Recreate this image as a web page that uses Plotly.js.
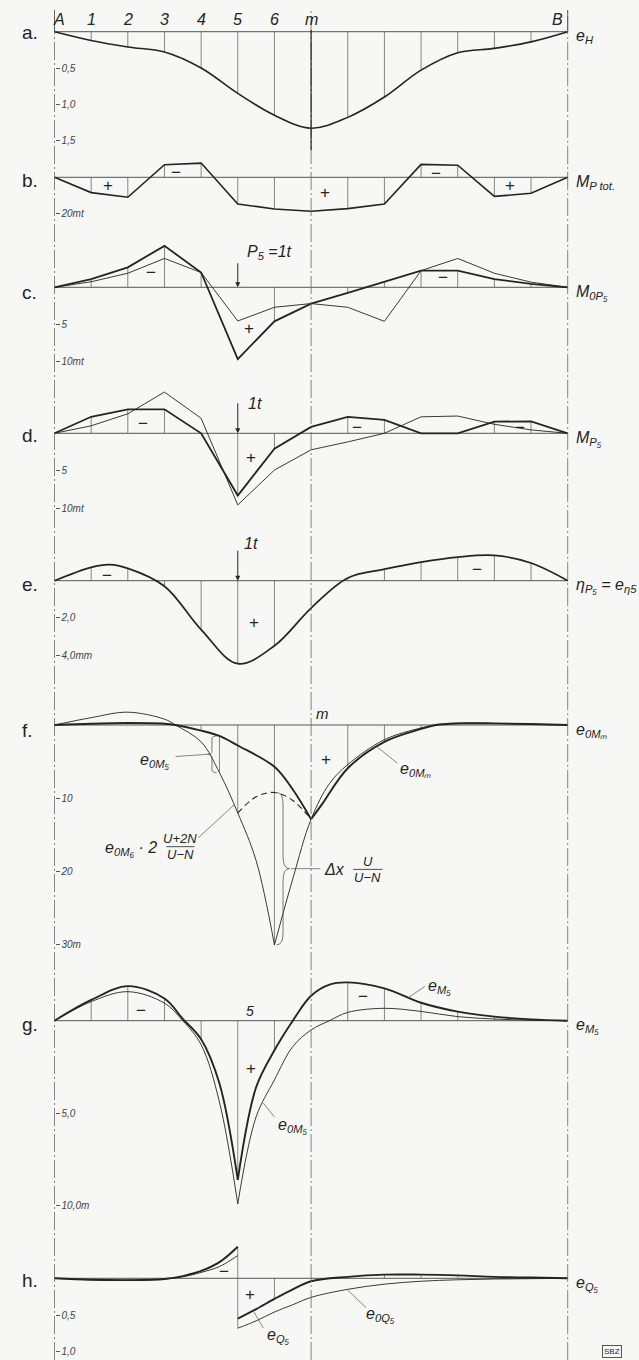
<!DOCTYPE html>
<html>
<head>
<meta charset="utf-8">
<script src="https://cdn.plot.ly/plotly-3.0.1.min.js"></script>
<style>
  body { margin: 0; background: #f7f7f5; }
  #chart { width: 639px; height: 1360px; }
</style>
</head>
<body>
<div id="chart"></div>
<script>
var W = 639, H = 1360;
var FONT = "Liberation Sans, Arial, sans-serif";
var INK = "#242424";
var XA = 54.5, XS = 36.657;   // pixel of station A, pixels per station

// stations along the girder: A = 0, m = 7, B = 14
var stations = [0, 1, 2, 3, 4, 5, 6, 7, 8, 9, 10, 11, 12, 13, 14];
var stationNames = ["A", "1", "2", "3", "4", "5", "6", "m", "", "", "", "", "", "", "B"];

// a. e_H
var eH = [0, 0.12, 0.21, 0.28, 0.50, 0.85, 1.15, 1.33, 1.18, 0.90, 0.53, 0.29, 0.23, 0.14, 0];
var aTicks = [0.5, 1.0, 1.5], aTickText = ["0,5", "1,0", "1,5"];

// b. M_P tot (mt)
var mPtot = [0, 8.5, 11.1, -7.0, -7.9, 14.8, 17.6, 18.9, 17.4, 14.8, -7.2, -6.7, 10.6, 8.9, 0];
var bTicks = [20], bTickText = ["20mt"];

// c. M_0P5
var m0P5Thick = [0, -1.1, -2.7, -5.6, -2.0, 9.7, 4.6, 2.2, 0.75, -0.75, -2.25, -2.25, -1.1, -0.45, 0];
var m0P5Thin  = [0, -0.75, -1.9, -3.9, -2.0, 4.55, 2.7, 2.2, 2.7, 4.6, -2.25, -3.9, -1.9, -0.7, 0];
var cTicks = [5, 10], cTickText = ["5", "10mt"];

// d. M_P5
var mP5Thick = [0, -2.2, -3.2, -3.2, 0, 8.3, 2.05, -0.85, -2.2, -1.8, 0, 0, -1.55, -1.6, 0];
var mP5Thin  = [0, -1.0, -2.6, -5.5, -2.0, 9.55, 4.9, 2.2, 1.15, 0, -2.2, -2.3, -1.2, -0.45, 0];
var dTicks = [5, 10], dTickText = ["5", "10mt"];

// e. eta_P5
var eEtaX = [0, 1, 1.5, 2, 3, 4, 5, 6, 7, 8, 9, 10, 11, 12, 13, 14];
var eEta  = [0, -0.72, -0.86, -0.66, 0.3, 2.63, 4.46, 3.5, 1.47, -0.15, -0.62, -1.0, -1.27, -1.36, -0.95, 0];
var eTicks = [2, 4], eTickText = ["2,0", "4,0mm"];

// f. e_0Mm and construction curves
var fThickLX = [0, 1, 2, 3, 3.3, 4, 4.5, 5, 6, 6.5, 7];
var fThickL  = [0, -0.18, -0.27, -0.18, 0, 0.76, 1.5, 2.8, 5.7, 8.8, 12.85];
var fThickRX = [7, 7.3, 8, 9, 10, 10.4, 11, 12, 13, 14];
var fThickR  = [12.85, 10.8, 5.9, 2.3, 0.54, 0, -0.22, -0.22, -0.13, 0];
var fThinLX  = [0, 1, 2, 3, 3.3, 4, 4.5, 5, 5.5, 6];
var fThinL   = [0, -1.0, -1.75, -0.8, 0, 2.3, 6.5, 12.0, 18.5, 30];
var fThinRX  = [6, 6.5, 7, 7.5, 8, 9, 10, 10.4, 11, 12, 13, 14];
var fThinR   = [30, 21, 12.85, 8.0, 5.4, 2.0, 0.4, 0, -0.25, -0.2, -0.1, 0];
var fDashX   = [5, 5.5, 6, 6.5, 7];
var fDash    = [12.0, 9.8, 9.2, 10.3, 12.85];
var fTicks = [10, 20, 30], fTickText = ["10", "20", "30m"];

// g. e_M5 (thick) and e_0M5 (thin)
var gLX   = [0, 1, 2, 3, 3.5, 4, 4.5, 5];
var eM5L  = [0, -1.12, -1.87, -1.2, -0.1, 1.0, 3.4, 8.6];
var e0M5L = [0, -1.03, -1.57, -0.95, 0.0, 1.3, 4.4, 9.9];
var gRX   = [5, 5.5, 6, 6.5, 7, 7.5, 8, 9, 10, 11, 12, 13, 14];
var eM5R  = [8.6, 3.6, 1.6, 0.0, -1.35, -1.95, -2.07, -1.75, -0.97, -0.49, -0.22, -0.07, 0];
var e0M5R = [9.9, 5.2, 3.2, 1.4, 0.5, 0.0, -0.45, -0.67, -0.5, -0.22, -0.09, -0.03, 0];
var gTicks = [5, 10], gTickText = ["5,0", "10,0m"];

// h. e_Q5 (thick) and e_0Q5 (thin)
var hLX   = [0, 1, 2, 3, 3.5, 4, 4.5, 5];
var eQ5L  = [0, 0.02, 0.025, 0.01, -0.03, -0.10, -0.22, -0.43];
var e0Q5L = [0, 0.02, 0.025, 0.01, -0.02, -0.08, -0.16, -0.31];
var hRX   = [5, 5.5, 6, 6.5, 7, 8, 9, 10, 11, 12, 13, 14];
var eQ5R  = [0.55, 0.42, 0.28, 0.15, 0.04, -0.02, -0.05, -0.05, -0.04, -0.02, -0.01, 0];
var e0Q5R = [0.68, 0.58, 0.46, 0.36, 0.26, 0.15, 0.08, 0.04, 0.02, 0.01, 0.005, 0];
var hTicks = [0.5, 1.0], hTickText = ["0,5", "1,0"];

// panel bands in pixels: top, bottom, baseline, pixels per unit
var panels = [
  {ax: "y",  key: "yaxis",  top: 8,    bot: 150,  base: 31.7,   k: 72.6, tv: aTicks, tt: aTickText, letter: "a.", ly: 32,   name: "e<sub>H</sub>"},
  {ax: "y2", key: "yaxis2", top: 150,  bot: 232,  base: 177.3,  k: 1.8,  tv: bTicks, tt: bTickText, letter: "b.", ly: 181,  name: "M<sub>P tot.</sub>"},
  {ax: "y3", key: "yaxis3", top: 232,  bot: 378,  base: 287.3,  k: 7.4,  tv: cTicks, tt: cTickText, letter: "c.", ly: 292,  name: "M<sub>0P₅</sub>"},
  {ax: "y4", key: "yaxis4", top: 378,  bot: 522,  base: 433.3,  k: 7.5,  tv: dTicks, tt: dTickText, letter: "d.", ly: 436,  name: "M<sub>P₅</sub>"},
  {ax: "y5", key: "yaxis5", top: 522,  bot: 672,  base: 580.7,  k: 18.6, tv: eTicks, tt: eTickText, letter: "e.", ly: 584,  name: "η<sub>P₅</sub> = e<sub>η5</sub>"},
  {ax: "y6", key: "yaxis6", top: 672,  bot: 962,  base: 725,    k: 7.33, tv: fTicks, tt: fTickText, letter: "f.", ly: 730,  name: "e<sub>0Mₘ</sub>"},
  {ax: "y7", key: "yaxis7", top: 962,  bot: 1228, base: 1020.7, k: 18.5, tv: gTicks, tt: gTickText, letter: "g.", ly: 1024, name: "e<sub>M₅</sub>"},
  {ax: "y8", key: "yaxis8", top: 1228, bot: 1360, base: 1278.3, k: 73.4, tv: hTicks, tt: hTickText, letter: "h.", ly: 1280, name: "e<sub>Q₅</sub>"}
];

function interp(xs, ys, x) {
  for (var i = 1; i < xs.length; i++) {
    if (x <= xs[i]) { var t = (x - xs[i - 1]) / (xs[i] - xs[i - 1]); return ys[i - 1] + t * (ys[i] - ys[i - 1]); }
  }
  return ys[ys.length - 1];
}
function tr(x, y, ax, w, opt) {
  opt = opt || {};
  return {x: x, y: y, xaxis: "x", yaxis: ax, type: "scatter", mode: "lines", hoverinfo: "skip",
    line: {color: opt.color || INK, width: w, shape: opt.shape || "linear", dash: opt.dash || "solid"}};
}
function ords(xs, ys, ax, skip) {
  var x = [], y = [];
  xs.forEach(function (s, i) {
    if (s % 1 !== 0 || s === 0 || s === 14 || (skip && skip.indexOf(s) >= 0)) return;
    x.push(s, s, null); y.push(0, ys[i], null);
  });
  return tr(x, y, ax, 0.7, {color: "#555"});
}
function segs(list, ax) {
  var x = [], y = [];
  list.forEach(function (s) { x.push(s[0], s[0], null); y.push(s[1], s[2], null); });
  return tr(x, y, ax, 0.7, {color: "#555"});
}
function base(ax) { return tr([0, 14], [0, 0], ax, 0.9, {color: "#444"}); }

var data = [];
// a
data.push(base("y"), ords(stations, eH, "y", [7]), tr(stations, eH, "y", 1.6, {shape: "spline"}));
// b
data.push(base("y2"), ords(stations, mPtot, "y2", [7]), tr(stations, mPtot, "y2", 1.6));
// c
data.push(base("y3"), ords(stations, m0P5Thick, "y3", [5, 7]),
  tr(stations, m0P5Thin, "y3", 0.9), tr(stations, m0P5Thick, "y3", 1.8));
// d
data.push(base("y4"), ords(stations, mP5Thick, "y4", [7]),
  tr(stations, mP5Thin, "y4", 0.9), tr(stations, mP5Thick, "y4", 1.8));
// e
data.push(base("y5"), ords(eEtaX, eEta, "y5", [7]), tr(eEtaX, eEta, "y5", 1.7, {shape: "spline"}));
// f
var fOrd = [];
[1, 2, 3, 4, 8, 9, 10, 11, 12, 13].forEach(function (s) {
  fOrd.push([s, 0, s < 7 ? interp(fThickLX, fThickL, s) : interp(fThickRX, fThickR, s)]);
});
fOrd.push([4.5, interp(fThickLX, fThickL, 4.5), interp(fThinLX, fThinL, 4.5)]);
fOrd.push([5, 0, fDash[0]]);
fOrd.push([6, 0, fThinL[fThinL.length - 1]]);
data.push(base("y6"), segs(fOrd, "y6"),
  tr(fThinLX, fThinL, "y6", 0.9, {shape: "spline"}), tr(fThinRX, fThinR, "y6", 0.9, {shape: "spline"}),
  tr(fDashX, fDash, "y6", 1.1, {shape: "spline", dash: "6px,4px"}),
  tr(fThickLX, fThickL, "y6", 1.9, {shape: "spline"}), tr(fThickRX, fThickR, "y6", 1.9, {shape: "spline"}));
// g
var gOrd = [];
[1, 2, 3, 4, 5, 6, 8, 9, 10, 11, 12, 13].forEach(function (s) {
  gOrd.push([s, 0, s <= 5 ? interp(gLX, eM5L, s) : interp(gRX, eM5R, s)]);
});
data.push(base("y7"), segs(gOrd, "y7"),
  tr(gLX, e0M5L, "y7", 0.9, {shape: "spline"}), tr(gRX, e0M5R, "y7", 0.9, {shape: "spline"}),
  tr(gLX, eM5L, "y7", 1.9, {shape: "spline"}), tr(gRX, eM5R, "y7", 1.9, {shape: "spline"}));
// h
var hOrd = [[5, eQ5L[eQ5L.length - 1], e0Q5R[0]], [6, 0, interp(hRX, eQ5R, 6)]];
[8, 9, 10, 11, 12, 13].forEach(function (s) { hOrd.push([s, 0, interp(hRX, eQ5R, s)]); });
data.push(base("y8"), segs(hOrd, "y8"),
  tr(hLX, e0Q5L, "y8", 0.9, {shape: "spline"}), tr(hRX, e0Q5R, "y8", 0.9, {shape: "spline"}),
  tr(hLX, eQ5L, "y8", 1.9, {shape: "spline"}), tr(hRX, eQ5R, "y8", 1.9, {shape: "spline"}));

// ---- layout ----
var layout = {
  width: W, height: H, margin: {l: 0, r: 0, t: 0, b: 0},
  paper_bgcolor: "#f7f7f5", plot_bgcolor: "rgba(0,0,0,0)",
  showlegend: false, hovermode: false, dragmode: false,
  xaxis: {domain: [0, 1], range: [-XA / XS, (W - XA) / XS], visible: false, fixedrange: true},
  annotations: [], shapes: []
};
panels.forEach(function (p) {
  layout[p.key] = {
    domain: [1 - p.bot / H, 1 - p.top / H],
    range: [(p.bot - p.base) / p.k, (p.top - p.base) / p.k],
    anchor: "free", position: XA / W, side: "right",
    ticks: "outside", ticklen: 4, tickwidth: 1, tickcolor: "#555",
    tickvals: p.tv, ticktext: p.tt,
    tickfont: {family: FONT, size: 10, style: "italic", color: "#444"},
    showgrid: false, zeroline: false, showline: false, fixedrange: true
  };
});

function txt(px, py, text, size, italic, anchor) {
  return {xref: "paper", yref: "paper", x: px / W, y: 1 - py / H, text: text, showarrow: false,
    xanchor: anchor || "center", yanchor: "middle",
    font: {family: FONT, size: size, color: INK, style: italic ? "italic" : "normal"}};
}
function dtxt(x, y, ax, text, size, anchor) {
  return {xref: "x", yref: ax, x: x, y: y, text: text, showarrow: false,
    xanchor: anchor || "center", yanchor: "middle",
    font: {family: FONT, size: size, color: INK, style: "italic"}};
}
function leader(x0, y0, x1, y1, ax) {
  return {type: "line", xref: "x", yref: ax, x0: x0, y0: y0, x1: x1, y1: y1, line: {color: "#555", width: 0.7}};
}
function load(ax, len) {
  return {xref: "x", yref: ax, x: 5, y: 0, ax: 0, ay: -len, text: " ", showarrow: true,
    arrowhead: 2, arrowsize: 1, arrowwidth: 1, arrowcolor: INK, standoff: 0,
    font: {family: FONT, size: 4}};
}
var A = layout.annotations, S = layout.shapes;

// station names on top
stations.forEach(function (s, i) {
  if (!stationNames[i]) return;
  A.push({xref: "x", yref: "paper", x: s, y: 1 - 20 / H, yanchor: "middle", xanchor: "center",
    text: stationNames[i], showarrow: false,
    xshift: i === 0 ? 4 : (i === 14 ? -10 : 0),
    font: {family: FONT, size: 16, color: INK, style: "italic"}});
});
// panel letters and right-hand names
panels.forEach(function (p) {
  A.push(txt(20, p.ly, p.letter, 19, false, "left"));
  A.push(txt(574, p.base + 5, p.name, 16, true, "left"));
});
// sign marks
var signs = [
  ["+", 108, 186], ["−", 176, 172], ["+", 325, 193], ["−", 436, 173], ["+", 510, 186],
  ["−", 151, 273], ["+", 249, 328], ["−", 443, 278],
  ["−", 143, 423], ["+", 251, 457], ["−", 357, 427], ["−", 520, 427],
  ["−", 107, 575], ["+", 254, 623], ["−", 477, 569],
  ["+", 326, 759],
  ["−", 141, 1010], ["−", 363, 997], ["+", 251, 1068],
  ["−", 224, 1271], ["+", 250, 1294]
];
signs.forEach(function (s) { A.push(txt(s[1], s[2], s[0], 17, false)); });

// loads P5 = 1t
A.push(load("y3", 28), load("y4", 34), load("y5", 34));
A.push(txt(245, 252, "P<sub>5</sub> =1t", 16, true, "left"));
A.push(txt(246, 403, "1t", 16, true, "left"));
A.push(txt(242, 543, "1t", 16, true, "left"));

// f. labels
A.push({xref: "x", yref: "y6", x: 7, y: 0, xanchor: "left", yanchor: "bottom", xshift: 3, yshift: 1,
  text: "m", showarrow: false, font: {family: FONT, size: 15, color: INK, style: "italic"}});
A.push(dtxt(2.74, 4.8, "y6", "e<sub>0M₅</sub>", 16));
S.push(leader(3.3, 4.3, 4.17, 4.0, "y6"));
A.push(dtxt(9.84, 6.1, "y6", "e<sub>0Mₘ</sub>", 16));
S.push(leader(8.8, 3.0, 9.35, 5.2, "y6"));
A.push(dtxt(2.85, 16.9, "y6", "e<sub>0M₆</sub> · 2", 16, "right"));
A.push(dtxt(3.43, 15.5, "y6", "U+2N", 13));
A.push(dtxt(3.43, 17.7, "y6", "U−N", 13));
S.push({type: "line", xref: "x", yref: "y6", x0: 3.05, x1: 3.82, y0: 16.6, y1: 16.6, line: {color: INK, width: 0.8}});
S.push(leader(3.92, 15.4, 4.9, interp(fThinLX, fThinL, 4.9), "y6"));
A.push(dtxt(7.3, 19.7, "y6", "Δx", 16, "left"));
A.push(dtxt(8.55, 18.6, "y6", "U", 13));
A.push(dtxt(8.55, 20.8, "y6", "U−N", 13));
S.push({type: "line", xref: "x", yref: "y6", x0: 8.15, x1: 8.95, y0: 19.7, y1: 19.7, line: {color: INK, width: 0.8}});

function brace(x0, ya, yb, w) {
  var ym = (ya + yb) / 2, d = (yb - ya) * 0.08, xc = x0 + w / 2, xt = x0 + w;
  return "M" + x0 + "," + ya + " Q" + xc + "," + ya + " " + xc + "," + (ya + d) +
    " L" + xc + "," + (ym - d) + " Q" + xc + "," + ym + " " + xt + "," + ym +
    " Q" + xc + "," + ym + " " + xc + "," + (ym + d) + " L" + xc + "," + (yb - d) +
    " Q" + xc + "," + yb + " " + x0 + "," + yb;
}
var b1a = interp(fThickLX, fThickL, 4.5), b1b = interp(fThinLX, fThinL, 4.5);
S.push({type: "path", xref: "x", yref: "y6", path: brace(4.42, b1a, b1b, -0.25), line: {color: "#555", width: 0.8}});
var b2a = fDash[2], b2b = fThinL[fThinL.length - 1];
S.push({type: "path", xref: "x", yref: "y6", path: brace(6.06, b2a, b2b, 0.35), line: {color: "#555", width: 0.8}});
S.push(leader(6.45, (b2a + b2b) / 2, 7.25, (b2a + b2b) / 2, "y6"));

// g. labels
A.push(txt(244, 1011, "5", 14, true, "left"));
A.push(txt(439, 986, "e<sub>M₅</sub>", 16, true));
S.push(leader(9.65, interp(gRX, eM5R, 9.65), 10.1, -1.85, "y7"));
A.push(txt(292, 1125, "e<sub>0M₅</sub>", 16, true));
S.push(leader(5.69, interp(gRX, e0M5R, 5.69), 6.0, 5.2, "y7"));

// h. labels
A.push(txt(278, 1335, "e<sub>Q₅</sub>", 16, true));
S.push(leader(5.42, interp(hRX, eQ5R, 5.42), 5.7, 0.68, "y8"));
A.push(txt(381, 1314, "e<sub>0Q₅</sub>", 16, true));
S.push(leader(7.98, interp(hRX, e0Q5R, 7.98), 8.5, 0.40, "y8"));
var sbz = txt(612, 1351, "SBZ", 8, false);
sbz.bordercolor = "#555"; sbz.borderwidth = 1; sbz.borderpad = 1;
A.push(sbz);

// axis lines at A, m, B
[0, 7, 14].forEach(function (s) {
  S.push({type: "line", xref: "x", yref: "paper", x0: s, x1: s, y0: 0, y1: 1 - 10 / H,
    line: {color: "#666", width: 0.8, dash: "18px,3px,2px,3px"}});
});
S.push({type: "line", xref: "x", yref: "paper", x0: 0, x1: 0, y0: 1 - 10 / H, y1: 1 - 32 / H, line: {color: "#555", width: 0.9}});
S.push({type: "line", xref: "x", yref: "paper", x0: 14, x1: 14, y0: 1 - 10 / H, y1: 1 - 32 / H, line: {color: "#555", width: 0.9}});
S.push({type: "line", xref: "x", yref: "paper", x0: 7, x1: 7, y0: 1 - 30 / H, y1: 1 - 150 / H, line: {color: INK, width: 1.2}});

Plotly.newPlot("chart", data, layout, {staticPlot: true, displayModeBar: false});
</script>
</body>
</html>
